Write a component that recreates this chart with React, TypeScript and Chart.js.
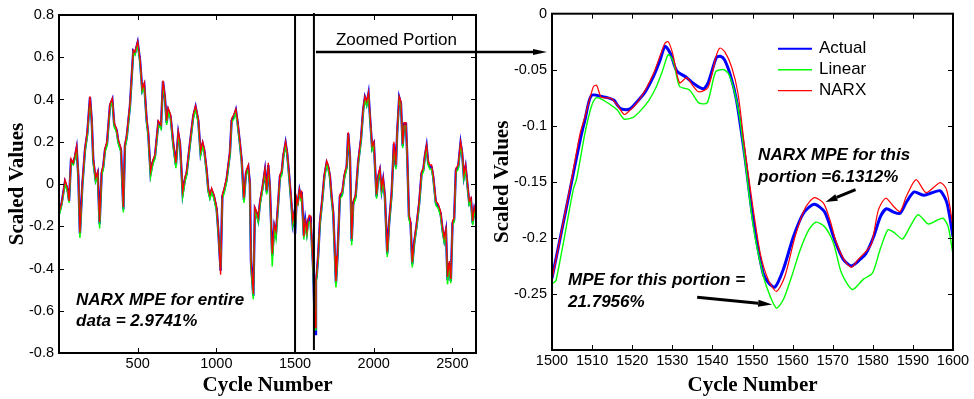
import React, { useEffect, useRef } from 'react';
import { Chart, registerables } from 'chart.js';

Chart.register(...registerables);

// ---------------- Left panel (whole record) ----------------
const leftCycles = [
  1, 17, 38, 55, 64, 76, 91, 102, 112, 123,
  133, 148, 165, 180, 197, 208, 218, 233, 246, 258,
  271, 281, 292, 305, 324, 339, 351, 366, 377, 394,
  409, 419, 430, 451, 472, 483, 500, 515, 529, 542,
  557, 567, 582, 595, 610, 631, 648, 661, 673, 684,
  694, 709, 726, 743, 758, 769, 786, 800, 811, 832,
  853, 868, 885, 900, 913, 923, 938, 949, 959, 970,
  985, 1002, 1012, 1027, 1038, 1050, 1065, 1086, 1097, 1112,
  1124, 1135, 1150, 1161, 1175, 1188, 1203, 1213, 1220, 1235,
  1245, 1256, 1266, 1277, 1294, 1309, 1320, 1330, 1340, 1355,
  1368, 1379, 1393, 1404, 1415, 1425, 1440, 1450, 1463, 1478,
  1485, 1495, 1500, 1510, 1518, 1528, 1538, 1542, 1556, 1565,
  1575, 1583, 1590, 1597, 1600, 1605, 1616, 1627, 1633, 1637,
  1647, 1658, 1673, 1686, 1701, 1711, 1722, 1732, 1743, 1754,
  1760, 1770, 1785, 1800, 1813, 1828, 1838, 1849, 1860, 1870,
  1885, 1901, 1919, 1933, 1944, 1955, 1967, 1978, 1990, 2001,
  2018, 2029, 2039, 2050, 2060, 2071, 2086, 2098, 2114, 2128,
  2141, 2149, 2162, 2173, 2184, 2194, 2205, 2213, 2224, 2234,
  2245, 2257, 2272, 2289, 2304, 2315, 2325, 2336, 2346, 2357,
  2368, 2378, 2395, 2410, 2425, 2438, 2448, 2459, 2469, 2480,
  2490, 2501, 2511, 2522, 2537, 2552, 2562, 2573, 2584, 2597,
  2607, 2618, 2629, 2639, 2650,
];

const leftActual = [
  -0.14, -0.09, 0.01, -0.03, -0.08, 0.11, 0.10, 0.13, 0.17, 0.035,
  -0.235, -0.01, 0.16, 0.24, 0.41, 0.30, 0.11, 0.02, 0.05, -0.19,
  0.05, 0.08, 0.16, 0.19, 0.37, 0.40, 0.28, 0.255, 0.20, 0.16,
  -0.12, 0.18, 0.22, 0.37, 0.63, 0.62, 0.67, 0.585, 0.445, 0.47,
  0.30, 0.24, 0.05, 0.10, 0.13, 0.29, 0.27, 0.485, 0.41, 0.29,
  0.35, 0.32, 0.19, 0.09, 0.24, 0.19, -0.045, 0.02, 0.05, 0.19,
  0.32, 0.365, 0.30, 0.145, 0.19, 0.16, 0.065, -0.03, -0.06, -0.03,
  -0.06, -0.12, -0.22, -0.41, -0.06, -0.03, 0.02, 0.145, 0.30, 0.32,
  0.35, 0.29, 0.19, 0.11, -0.075, 0.05, 0.08, 0.0, -0.37, -0.53,
  -0.12, -0.14, -0.17, -0.09, -0.015, 0.065, -0.04, 0.09, -0.015, -0.34,
  -0.20, -0.235, -0.09, 0.035, 0.05, 0.13, 0.195, 0.145, 0.035, -0.105,
  -0.185, -0.14, -0.236, -0.073, -0.085, -0.030, -0.067, -0.038, -0.244, -0.170,
  -0.226, -0.174, -0.159, -0.157, -0.199, -0.25, -0.41, -0.71, -0.455, -0.44,
  -0.34, -0.185, -0.075, 0.035, 0.10, 0.08, 0.035, -0.06, -0.14, -0.35,
  -0.47, -0.34, -0.06, -0.045, 0.035, 0.08, 0.24, 0.13, -0.27, -0.09,
  -0.06, 0.10, 0.21, 0.35, 0.41, 0.38, 0.43, 0.30, 0.17, 0.19,
  -0.06, 0.035, 0.065, -0.03, 0.02, -0.06, -0.33, -0.185, -0.045, 0.19,
  0.08, 0.24, 0.41, 0.38, 0.18, 0.285, 0.285, 0.13, -0.155, -0.185,
  -0.38, -0.28, -0.20, -0.09, 0.05, 0.065, 0.13, 0.18, 0.10, 0.08,
  0.08, 0.035, -0.09, -0.105, -0.14, -0.22, -0.265, -0.22, -0.455, -0.375,
  -0.46, -0.185, -0.17, 0.065, 0.08, 0.195, 0.145, 0.035, 0.08, -0.015,
  -0.09, -0.075, -0.185, -0.12, -0.155,
];

const leftLinear = [
  -0.15, -0.10, 0.00, -0.04, -0.09, 0.10, 0.09, 0.12, 0.16, 0.03,
  -0.255, -0.02, 0.15, 0.23, 0.40, 0.29, 0.10, 0.01, 0.04, -0.21,
  0.04, 0.07, 0.15, 0.18, 0.36, 0.39, 0.27, 0.245, 0.19, 0.15,
  -0.135, 0.17, 0.21, 0.36, 0.62, 0.61, 0.66, 0.575, 0.435, 0.46,
  0.29, 0.23, 0.035, 0.09, 0.12, 0.28, 0.26, 0.475, 0.40, 0.28,
  0.34, 0.31, 0.18, 0.075, 0.23, 0.18, -0.06, 0.01, 0.04, 0.18,
  0.31, 0.355, 0.29, 0.135, 0.18, 0.15, 0.055, -0.04, -0.07, -0.04,
  -0.07, -0.13, -0.23, -0.40, -0.07, -0.04, 0.01, 0.135, 0.29, 0.31,
  0.34, 0.28, 0.18, 0.10, -0.09, 0.04, 0.07, -0.01, -0.39, -0.545,
  -0.13, -0.15, -0.18, -0.10, -0.025, 0.055, -0.05, 0.08, -0.025, -0.39,
  -0.21, -0.26, -0.10, 0.025, 0.04, 0.12, 0.185, 0.135, 0.025, -0.115,
  -0.195, -0.15, -0.241, -0.075, -0.094, -0.037, -0.080, -0.050, -0.263, -0.186,
  -0.246, -0.193, -0.179, -0.182, -0.215, -0.26, -0.42, -0.69, -0.47, -0.45,
  -0.35, -0.195, -0.085, 0.025, 0.09, 0.07, 0.025, -0.07, -0.15, -0.37,
  -0.49, -0.35, -0.07, -0.055, 0.025, 0.07, 0.23, 0.12, -0.29, -0.10,
  -0.07, 0.09, 0.20, 0.34, 0.40, 0.37, 0.42, 0.29, 0.16, 0.18,
  -0.07, 0.025, 0.055, -0.04, 0.01, -0.07, -0.345, -0.195, -0.055, 0.18,
  0.07, 0.23, 0.40, 0.37, 0.17, 0.275, 0.275, 0.12, -0.165, -0.195,
  -0.395, -0.29, -0.21, -0.10, 0.04, 0.055, 0.12, 0.17, 0.09, 0.07,
  0.07, 0.025, -0.10, -0.115, -0.15, -0.23, -0.275, -0.23, -0.475, -0.385,
  -0.47, -0.195, -0.18, 0.055, 0.07, 0.185, 0.135, 0.025, 0.07, -0.025,
  -0.10, -0.085, -0.195, -0.13, -0.165,
];

const leftNarx = [
  -0.13, -0.09, 0.02, -0.02, -0.08, 0.12, 0.10, 0.14, 0.18, 0.04,
  -0.23, 0.00, 0.17, 0.25, 0.415, 0.31, 0.12, 0.03, 0.06, -0.18,
  0.06, 0.09, 0.17, 0.20, 0.38, 0.405, 0.29, 0.26, 0.21, 0.17,
  -0.11, 0.19, 0.23, 0.38, 0.635, 0.625, 0.675, 0.59, 0.45, 0.48,
  0.31, 0.25, 0.06, 0.11, 0.14, 0.30, 0.28, 0.49, 0.42, 0.30,
  0.36, 0.33, 0.20, 0.10, 0.25, 0.20, -0.035, 0.03, 0.06, 0.20,
  0.33, 0.37, 0.31, 0.155, 0.20, 0.17, 0.075, -0.02, -0.05, -0.02,
  -0.05, -0.11, -0.21, -0.43, -0.05, -0.02, 0.03, 0.155, 0.31, 0.33,
  0.355, 0.30, 0.20, 0.12, -0.065, 0.06, 0.09, 0.01, -0.36, -0.52,
  -0.11, -0.13, -0.16, -0.08, -0.005, 0.075, -0.03, 0.10, -0.005, -0.33,
  -0.19, -0.225, -0.08, 0.045, 0.06, 0.14, 0.20, 0.155, 0.045, -0.095,
  -0.175, -0.13, -0.237, -0.064, -0.090, -0.025, -0.066, -0.031, -0.248, -0.164,
  -0.226, -0.165, -0.148, -0.151, -0.190, -0.24, -0.40, -0.68, -0.44, -0.43,
  -0.33, -0.175, -0.065, 0.045, 0.11, 0.09, 0.045, -0.05, -0.13, -0.34,
  -0.46, -0.33, -0.05, -0.035, 0.045, 0.09, 0.245, 0.14, -0.26, -0.08,
  -0.05, 0.11, 0.22, 0.36, 0.415, 0.39, 0.435, 0.31, 0.18, 0.20,
  -0.05, 0.045, 0.075, -0.02, 0.03, -0.05, -0.32, -0.175, -0.035, 0.20,
  0.09, 0.25, 0.415, 0.39, 0.19, 0.29, 0.29, 0.14, -0.145, -0.175,
  -0.37, -0.27, -0.19, -0.08, 0.06, 0.075, 0.14, 0.185, 0.11, 0.09,
  0.09, 0.045, -0.08, -0.095, -0.13, -0.21, -0.255, -0.21, -0.44, -0.365,
  -0.45, -0.175, -0.16, 0.075, 0.09, 0.20, 0.155, 0.045, 0.09, -0.005,
  -0.08, -0.065, -0.175, -0.11, -0.145,
];

const leftXTicks = [500, 1000, 1500, 2000, 2500];
const leftYTicks = [-0.8, -0.6, -0.4, -0.2, 0, 0.2, 0.4, 0.6, 0.8];
const zoomMarkers = [1500, 1620];

// ---------------- Right panel (zoomed portion) ----------------
const rightActualX = [
  1500, 1504.5, 1507, 1508.2, 1509.8, 1512.6, 1515.4, 1516.4, 1517.3, 1519.4,
  1521.1, 1523.2, 1525.3, 1526.9, 1528.2, 1529.6, 1531.1, 1533.6, 1535.2, 1537.7,
  1538.9, 1541, 1542, 1543, 1544.5, 1546, 1548, 1550, 1552.6, 1554,
  1555.6, 1557.7, 1560.2, 1562.7, 1565.4, 1568, 1570.5, 1572.6, 1574.7, 1576.9,
  1578.3, 1580.2, 1581.9, 1583.4, 1585.2, 1586.8, 1588.4, 1590.3, 1592.6, 1594.6,
  1596.8, 1598.5, 1600,
];
const rightActualY = [
  -0.236, -0.157, -0.113, -0.095, -0.073, -0.074, -0.077, -0.082, -0.085, -0.085,
  -0.079, -0.070, -0.056, -0.042, -0.029, -0.036, -0.051, -0.057, -0.062, -0.067,
  -0.062, -0.039, -0.038, -0.041, -0.055, -0.077, -0.125, -0.180, -0.231, -0.240,
  -0.244, -0.228, -0.199, -0.178, -0.170, -0.177, -0.202, -0.219, -0.225, -0.219,
  -0.214, -0.199, -0.181, -0.174, -0.177, -0.178, -0.168, -0.159, -0.162, -0.160,
  -0.158, -0.169, -0.199,
];

const rightLinearX = [
  1500, 1501, 1505.3, 1506.1, 1508.2, 1509.8, 1511, 1512.2, 1514.5, 1516.3,
  1518, 1520.2, 1522.2, 1524.2, 1525.9, 1527.6, 1529, 1530.3, 1531.8, 1534.3,
  1536.6, 1538.7, 1540.8, 1542.7, 1544, 1545.6, 1546.9, 1550.2, 1552.7, 1554.4,
  1556, 1557.7, 1559.8, 1561.9, 1564, 1565.8, 1568, 1570.2, 1572.2, 1574.9,
  1577.6, 1579.9, 1581.8, 1583.8, 1585.5, 1587.4, 1589.3, 1591.3, 1593.8, 1595.9,
  1597.5, 1598.8, 1600,
];
const rightLinearY = [
  -0.241, -0.238, -0.157, -0.148, -0.107, -0.083, -0.075, -0.076, -0.081, -0.086,
  -0.094, -0.0925, -0.086, -0.077, -0.066, -0.0505, -0.0365, -0.043, -0.0647, -0.068,
  -0.0795, -0.0795, -0.0519, -0.0498, -0.0534, -0.0712, -0.095, -0.19, -0.234, -0.252,
  -0.2625, -0.255, -0.234, -0.2106, -0.193, -0.186, -0.19, -0.2047, -0.2314, -0.246,
  -0.237, -0.2315, -0.2106, -0.1928, -0.1957, -0.201, -0.19, -0.1794, -0.1875, -0.1845,
  -0.1824, -0.19, -0.215,
];

const rightNarxX = [
  1500, 1504.5, 1507, 1508.2, 1510.3, 1511.1, 1512.2, 1513.4, 1514.8, 1516.4,
  1518, 1519.5, 1521.1, 1523.2, 1525.3, 1527, 1528.2, 1529, 1530.1, 1531.8,
  1533.6, 1535.2, 1536.6, 1538.9, 1541, 1541.9, 1543.1, 1544.8, 1546.4, 1548,
  1550, 1552, 1554, 1556, 1558.1, 1560.6, 1563.1, 1565.4, 1567.7, 1569.3,
  1571, 1573.1, 1574.7, 1576.4, 1578.3, 1579.7, 1581.4, 1583.2, 1585.2, 1586.8,
  1588.4, 1590.8, 1593.3, 1596.8, 1598.4, 1600,
];
const rightNarxY = [
  -0.237, -0.155, -0.107, -0.092, -0.0653, -0.0638, -0.0742, -0.0751, -0.0756, -0.082,
  -0.0899, -0.086, -0.080, -0.0685, -0.0534, -0.0371, -0.0261, -0.025, -0.0356, -0.0617,
  -0.057, -0.0647, -0.0698, -0.0659, -0.0371, -0.0306, -0.0341, -0.0475, -0.0714, -0.118,
  -0.17, -0.215, -0.238, -0.2477, -0.234, -0.199, -0.1735, -0.1641, -0.169, -0.184,
  -0.205, -0.221, -0.2262, -0.219, -0.212, -0.205, -0.175, -0.1646, -0.172, -0.1765,
  -0.1627, -0.148, -0.1596, -0.1507, -0.157, -0.19,
];

const rightXTicks = [1500, 1510, 1520, 1530, 1540, 1550, 1560, 1570, 1580, 1590, 1600];
const rightYTicks = [-0.25, -0.2, -0.15, -0.1, -0.05, 0];

const seriesNames = ['Actual', 'Linear', 'NARX'];
const seriesColors = ['#0000ff', '#00ff00', '#ff0000'];

const leftNote = ['NARX MPE for entire', 'data = 2.9741%'];
const narxNote = ['NARX MPE for this', 'portion =6.1312%'];
const linearNote = ['MPE for this portion =', '21.7956%'];
const zoomLabel = 'Zoomed Portion';

// ---------------- styling ----------------
const SANS = '"Liberation Sans", Arial, sans-serif';
const SERIF = '"Liberation Serif", "Times New Roman", serif';
const TICK_FONT = { family: SANS, size: 14.5 };
const TITLE_FONT = { family: SERIF, size: 21, weight: 'bold' as const };
const NOTE_FONT = `italic bold 17px ${SANS}`;

const toXY = (xs: number[], ys: number[]) => xs.map((x, i) => ({ x, y: ys[i] }));

function drawArrow(
  ctx: CanvasRenderingContext2D,
  x0: number, y0: number, x1: number, y1: number,
  width: number, headLen: number, headHalf: number,
) {
  const ang = Math.atan2(y1 - y0, x1 - x0);
  const bx = x1 - headLen * Math.cos(ang);
  const by = y1 - headLen * Math.sin(ang);
  ctx.save();
  ctx.strokeStyle = '#000';
  ctx.fillStyle = '#000';
  ctx.lineWidth = width;
  ctx.beginPath();
  ctx.moveTo(x0, y0);
  ctx.lineTo(bx, by);
  ctx.stroke();
  ctx.beginPath();
  ctx.moveTo(x1, y1);
  ctx.lineTo(bx + headHalf * Math.sin(ang), by - headHalf * Math.cos(ang));
  ctx.lineTo(bx - headHalf * Math.sin(ang), by + headHalf * Math.cos(ang));
  ctx.closePath();
  ctx.fill();
  ctx.restore();
}

const frameTicksPlugin = {
  id: 'frameTicks',
  afterDatasetsDraw(chart: any) {
    const { ctx, chartArea: a, scales } = chart;
    const len = 5;
    ctx.save();
    ctx.strokeStyle = '#000';
    ctx.lineWidth = 1;
    ctx.beginPath();
    scales.x.ticks.forEach((t: any) => {
      const px = Math.round(scales.x.getPixelForValue(t.value)) + 0.5;
      if (px <= a.left + 2 || px >= a.right - 2) return;
      ctx.moveTo(px, a.bottom); ctx.lineTo(px, a.bottom - len);
      ctx.moveTo(px, a.top); ctx.lineTo(px, a.top + len);
    });
    scales.y.ticks.forEach((t: any) => {
      const py = Math.round(scales.y.getPixelForValue(t.value)) + 0.5;
      if (py <= a.top + 2 || py >= a.bottom - 2) return;
      ctx.moveTo(a.left, py); ctx.lineTo(a.left + len, py);
      ctx.moveTo(a.right, py); ctx.lineTo(a.right - len, py);
    });
    ctx.stroke();
    ctx.lineWidth = 2;
    ctx.strokeRect(a.left, a.top, a.right - a.left, a.bottom - a.top);
    ctx.restore();
  },
};

function makeLinePlugins(getRight: () => any) {
  return {
    id: 'leftExtras',
    afterDraw(chart: any) {
      const { ctx, chartArea: a, scales } = chart;
      const xs = scales.x;
      const ys = scales.y;
      ctx.save();
      // zoom markers
      ctx.strokeStyle = '#000';
      ctx.lineWidth = 2;
      zoomMarkers.forEach((m, i) => {
        const px = xs.getPixelForValue(m);
        ctx.beginPath();
        ctx.moveTo(px, i === 0 ? a.top : a.top - 2);
        ctx.lineTo(px, i === 0 ? a.bottom : a.bottom - 3);
        ctx.stroke();
      });
      // arrow to zoomed panel
      const right = getRight();
      const x0 = xs.getPixelForValue(zoomMarkers[1]) + 2;
      const ay = ys.getPixelForValue(0.625);
      const x1 = right ? right.chartArea.left - 5 : a.right + 70;
      drawArrow(ctx, x0, ay, x1, ay, 2.5, 14, 3);
      // label
      ctx.fillStyle = '#000';
      ctx.font = `17px ${SANS}`;
      ctx.textBaseline = 'middle';
      ctx.textAlign = 'left';
      ctx.fillText(zoomLabel, xs.getPixelForValue(1760), ys.getPixelForValue(0.682));
      // note
      ctx.font = NOTE_FONT;
      ctx.fillText(leftNote[0], xs.getPixelForValue(108), ys.getPixelForValue(-0.549));
      ctx.fillText(leftNote[1], xs.getPixelForValue(108), ys.getPixelForValue(-0.652));
      ctx.restore();
    },
  };
}

const rightExtrasPlugin = {
  id: 'rightExtras',
  afterDraw(chart: any) {
    const { ctx, chartArea: a, scales } = chart;
    const xs = scales.x;
    const ys = scales.y;
    ctx.save();
    // legend
    const rows = [35, 56, 77];
    chart.data.datasets.forEach((ds: any, i: number) => {
      const y = a.top + rows[i];
      ctx.strokeStyle = ds.borderColor;
      ctx.lineWidth = Math.min(ds.borderWidth, 2);
      ctx.beginPath();
      ctx.moveTo(a.left + 226, y);
      ctx.lineTo(a.left + 260, y);
      ctx.stroke();
      ctx.fillStyle = '#000';
      ctx.font = `17px ${SANS}`;
      ctx.textBaseline = 'middle';
      ctx.textAlign = 'left';
      ctx.fillText(ds.label, a.left + 267, y);
    });
    // notes
    ctx.fillStyle = '#000';
    ctx.font = NOTE_FONT;
    ctx.textBaseline = 'middle';
    ctx.textAlign = 'left';
    ctx.fillText(narxNote[0], xs.getPixelForValue(1551.4), ys.getPixelForValue(-0.126));
    ctx.fillText(narxNote[1], xs.getPixelForValue(1551.4), ys.getPixelForValue(-0.1456));
    ctx.fillText(linearNote[0], xs.getPixelForValue(1504), ys.getPixelForValue(-0.2379));
    ctx.fillText(linearNote[1], xs.getPixelForValue(1504), ys.getPixelForValue(-0.2577));
    // arrows
    drawArrow(ctx,
      xs.getPixelForValue(1575.7), ys.getPixelForValue(-0.157),
      xs.getPixelForValue(1568.2), ys.getPixelForValue(-0.168), 3, 12, 3.5);
    drawArrow(ctx,
      xs.getPixelForValue(1536.2), ys.getPixelForValue(-0.253),
      xs.getPixelForValue(1554.9), ys.getPixelForValue(-0.2594), 3, 14, 3.5);
    ctx.restore();
  },
};

function axisOptions(opts: {
  xMin: number; xMax: number; xTicks: number[];
  yMin: number; yMax: number; yTicks: number[];
  yFmt: (v: number) => string; yWidth: number; xHeight: number; yTitlePad: number;
}) {
  return {
    x: {
      type: 'linear' as const,
      min: opts.xMin,
      max: opts.xMax,
      grid: { display: false, drawTicks: false },
      border: { display: false },
      afterBuildTicks: (s: any) => { s.ticks = opts.xTicks.map((v) => ({ value: v })); },
      afterFit: (s: any) => { s.height = opts.xHeight; },
      ticks: {
        font: TICK_FONT,
        color: '#000',
        padding: 2,
        maxRotation: 0,
        autoSkip: false,
        callback: (v: any) => String(v),
      },
      title: {
        display: true,
        text: 'Cycle Number',
        font: TITLE_FONT,
        color: '#000',
        padding: { top: 0, bottom: 1 },
      },
    },
    y: {
      type: 'linear' as const,
      min: opts.yMin,
      max: opts.yMax,
      grid: { display: false, drawTicks: false },
      border: { display: false },
      afterBuildTicks: (s: any) => { s.ticks = opts.yTicks.map((v) => ({ value: v })); },
      afterFit: (s: any) => { s.width = opts.yWidth; },
      ticks: {
        font: TICK_FONT,
        color: '#000',
        padding: 5,
        autoSkip: false,
        callback: (v: any) => opts.yFmt(Number(v)),
      },
      title: {
        display: true,
        text: 'Scaled Values',
        font: TITLE_FONT,
        color: '#000',
        padding: { top: opts.yTitlePad, bottom: 0 },
      },
    },
  };
}

export default function App() {
  const leftRef = useRef<HTMLCanvasElement>(null);
  const rightRef = useRef<HTMLCanvasElement>(null);

  useEffect(() => {
    const rightChart: any = new Chart(rightRef.current as HTMLCanvasElement, {
      type: 'line',
      data: {
        datasets: [
          { label: seriesNames[0], data: toXY(rightActualX, rightActualY), borderColor: seriesColors[0], borderWidth: 3, order: 3 },
          { label: seriesNames[1], data: toXY(rightLinearX, rightLinearY), borderColor: seriesColors[1], borderWidth: 1.4, order: 2 },
          { label: seriesNames[2], data: toXY(rightNarxX, rightNarxY), borderColor: seriesColors[2], borderWidth: 1.2, order: 1 },
        ].map((d) => ({ ...d, pointRadius: 0, fill: false, tension: 0.25 })),
      },
      options: {
        animation: false,
        responsive: false,
        devicePixelRatio: 1,
        events: [],
        layout: { padding: { left: 482, right: 21, top: 13, bottom: 0 } },
        plugins: { legend: { display: false }, tooltip: { enabled: false } },
        scales: axisOptions({
          xMin: 1500, xMax: 1600, xTicks: rightXTicks,
          yMin: -0.3, yMax: 0, yTicks: rightYTicks,
          yFmt: (v) => (v === 0 ? '0' : String(Number(v.toFixed(2)))),
          yWidth: 70, xHeight: 49, yTitlePad: 8,
        }),
      } as any,
      plugins: [frameTicksPlugin, rightExtrasPlugin],
    });

    const leftChart: any = new Chart(leftRef.current as HTMLCanvasElement, {
      type: 'line',
      data: {
        datasets: [
          { label: seriesNames[0], data: toXY(leftCycles, leftActual), borderColor: seriesColors[0], borderWidth: 2.4, order: 3 },
          { label: seriesNames[1], data: toXY(leftCycles, leftLinear), borderColor: seriesColors[1], borderWidth: 1.5, order: 2 },
          { label: seriesNames[2], data: toXY(leftCycles, leftNarx), borderColor: seriesColors[2], borderWidth: 1.3, order: 1 },
        ].map((d) => ({ ...d, pointRadius: 0, fill: false, tension: 0 })),
      },
      options: {
        animation: false,
        responsive: false,
        devicePixelRatio: 1,
        events: [],
        layout: { padding: { left: 0, right: 498, top: 15, bottom: 0 } },
        plugins: { legend: { display: false }, tooltip: { enabled: false } },
        scales: axisOptions({
          xMin: 0, xMax: 2650, xTicks: leftXTicks,
          yMin: -0.8, yMax: 0.8, yTicks: leftYTicks,
          yFmt: (v) => (Math.abs(v) < 1e-9 ? '0' : v.toFixed(1)),
          yWidth: 59, xHeight: 46, yTitlePad: 5,
        }),
      } as any,
      plugins: [frameTicksPlugin, makeLinePlugins(() => rightChart)],
    });

    return () => {
      leftChart.destroy();
      rightChart.destroy();
    };
  }, []);

  return (
    <div style={{ position: 'absolute', left: 0, top: 0, width: 974, height: 399, background: '#fff' }}>
      <canvas ref={leftRef} width={974} height={399} style={{ position: 'absolute', left: 0, top: 0 }} />
      <canvas ref={rightRef} width={974} height={399} style={{ position: 'absolute', left: 0, top: 0 }} />
    </div>
  );
}
